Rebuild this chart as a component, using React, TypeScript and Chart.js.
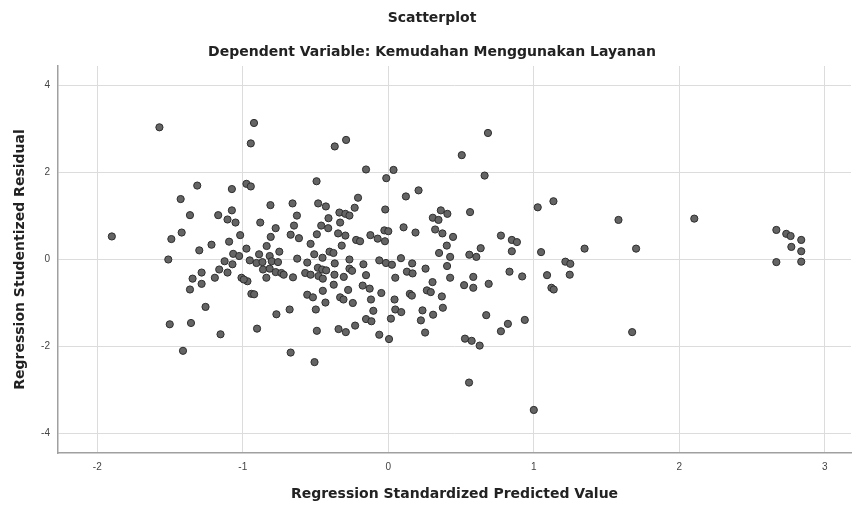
import React, { useEffect, useRef } from "react";
import Chart from "chart.js/auto";

const chartTitle = "Scatterplot";
const chartSubtitle = "Dependent Variable: Kemudahan Menggunakan Layanan";
const xAxisTitle = "Regression Standardized Predicted Value";
const yAxisTitle = "Regression Studentized Residual";

const xTickValues = [-2, -1, 0, 1, 2, 3];
const yTickValues = [-4, -2, 0, 2, 4];

const predictedValues = [
  -1.573, -0.923, -0.945, -1.313, -1.075, -0.975, -0.945, -1.427, -1.363, -1.169,
  -1.075, -1.105, -1.05, -0.88, -1.9, -1.42, -1.491, -1.018, -1.215, -1.094,
  -1.299, -0.975, -1.066, -1.025, -1.512, -1.125, -1.071, -0.952, -0.906, -0.888,
  -1.162, -1.105, -1.283, -1.345, -1.192, -1.009, -1.283, -1.363, -0.968, -0.941,
  -0.922, -1.256, -1.502, -1.356, -1.153, -0.902, -1.411, -0.368, -0.29, -0.153,
  0.036, -0.014, -0.493, -0.81, -0.658, -0.482, -0.429, -0.208, -0.231, -0.628,
  -0.336, -0.295, -0.267, -0.411, -0.021, -0.774, -0.648, -0.461, -0.413, -0.331,
  -0.808, -0.671, -0.614, -0.491, -0.345, -0.295, -0.534, -0.32, -0.221, -0.194,
  -0.123, -0.073, -0.023, -0.027, 0.0, -0.836, -0.749, -0.626, -0.509, -0.452,
  -0.404, -0.377, -0.267, -0.171, -0.062, -0.016, 0.025, -0.815, -0.865, -0.801,
  -0.758, -0.557, -0.368, -0.267, -0.861, -0.815, -0.774, -0.735, -0.571, -0.484,
  -0.454, -0.427, -0.153, -0.838, -0.655, -0.48, -0.45, -0.306, 0.048, -0.993,
  -0.719, -0.534, -0.37, -0.375, -0.45, -0.557, -0.518, -0.432, -0.498, -0.276,
  -0.331, -0.308, -0.244, -0.249, -0.176, -0.128, -0.119, -0.048, -0.103, -0.153,
  -0.116, 0.018, 0.043, 0.048, -0.062, 0.005, -0.491, -0.342, -0.292, -0.228,
  -0.671, -0.507, -0.769, -0.678, 0.685, 0.505, 0.662, 0.208, 0.121, 0.361,
  0.406, 0.306, 0.345, 0.562, 1.027, 1.135, 0.105, 0.187, 0.322, 0.372,
  0.445, 0.774, 0.849, 0.884, 0.402, 0.635, 0.349, 0.557, 0.605, 0.425,
  0.849, 1.05, 0.087, 0.164, 0.128, 0.167, 0.256, 0.404, 0.833, 0.92,
  1.091, 0.425, 0.584, 0.304, 0.521, 0.584, 0.69, 1.121, 1.137, 0.148,
  0.162, 0.265, 0.292, 0.368, 0.089, 0.235, 0.375, 0.308, 0.224, 0.253,
  0.673, 0.822, 0.774, 0.938, 0.527, 0.573, 0.628, 0.555, 1.0, 1.582,
  2.103, 1.349, 1.703, 1.217, 1.251, 1.247, 1.676, 2.667, 2.735, 2.765,
  2.838, 2.77, 2.838, 2.667, 2.838,
];

const studentizedResiduals = [
  3.04, 3.14, 2.67, 1.7, 1.62, 1.74, 1.68, 1.39, 1.02, 1.02,
  1.13, 0.92, 0.85, 0.85, 0.53, 0.62, 0.47, 0.56, 0.34, 0.41,
  0.21, 0.25, 0.13, 0.08, 0.0, -0.04, -0.11, -0.02, -0.08, 0.12,
  -0.23, -0.3, -0.3, -0.44, -0.42, -0.42, -0.56, -0.69, -0.5, -0.79,
  -0.8, -1.09, -1.49, -1.46, -1.72, -1.59, -2.1, 2.6, 2.75, 2.07,
  2.06, 1.87, 1.8, 1.25, 1.29, 1.29, 1.22, 1.42, 1.19, 1.01,
  1.08, 1.05, 1.01, 0.95, 1.15, 0.72, 0.78, 0.78, 0.72, 0.85,
  0.52, 0.57, 0.49, 0.58, 0.6, 0.55, 0.36, 0.32, 0.45, 0.42,
  0.56, 0.48, 0.42, 0.67, 0.65, 0.31, 0.18, 0.02, 0.12, 0.04,
  0.18, 0.15, 0.0, -0.11, -0.02, -0.08, -0.12, 0.08, -0.06, -0.04,
  -0.06, -0.07, -0.09, -0.21, -0.23, -0.21, -0.29, -0.31, -0.31, -0.19,
  -0.23, -0.25, -0.36, -0.42, -0.41, -0.38, -0.44, -0.4, -0.42, -0.46,
  -0.35, -0.35, -0.35, -0.58, -0.72, -0.81, -0.87, -0.99, -1.15, -0.7,
  -0.87, -0.92, -1.0, -0.26, -0.6, -0.67, -0.92, -0.77, -1.18, -1.37,
  -1.42, -1.36, -0.92, -1.15, -1.73, -1.83, -1.64, -1.6, -1.67, -1.52,
  -2.14, -2.36, -1.26, -1.15, 2.91, 2.4, 1.93, 1.59, 1.45, 1.13,
  1.05, 0.96, 0.91, 1.09, 1.2, 1.34, 0.74, 0.62, 0.69, 0.6,
  0.52, 0.55, 0.45, 0.4, 0.32, 0.26, 0.15, 0.11, 0.06, 0.06,
  0.19, 0.17, 0.03, -0.09, -0.28, -0.32, -0.21, -0.15, -0.28, -0.39,
  -0.36, -0.42, -0.4, -0.52, -0.59, -0.65, -0.56, -0.65, -0.69, -0.79,
  -0.83, -0.71, -0.75, -0.85, -1.21, -1.17, -1.11, -1.27, -1.4, -1.68,
  -1.28, -1.48, -1.65, -1.39, -1.82, -1.87, -1.98, -2.83, -3.46, 0.91,
  0.94, 0.25, 0.25, -0.05, -0.1, -0.35, -1.67, 0.68, 0.59, 0.54,
  0.45, 0.29, 0.19, -0.06, -0.05,
];

const titleFont = { family: "'DejaVu Sans', sans-serif", size: 14, weight: "bold" as const };
const tickFont = { family: "'Liberation Sans', Arial, sans-serif", size: 10 };

export default function App() {
  const canvasRef = useRef<HTMLCanvasElement | null>(null);

  useEffect(() => {
    if (!canvasRef.current) return;
    const points = predictedValues.map((x, i) => ({ x, y: studentizedResiduals[i] }));
    const chart = new Chart(canvasRef.current, {
      type: "scatter",
      data: {
        datasets: [
          {
            data: points,
            pointRadius: 3.6,
            pointBackgroundColor: "#646464",
            pointBorderColor: "#2e2e2e",
            pointBorderWidth: 1,
          },
        ],
      },
      options: {
        animation: false,
        responsive: false,
        devicePixelRatio: 1,
        layout: { padding: { left: 8, right: 0, top: 0, bottom: 0 } },
        plugins: {
          legend: { display: false },
          tooltip: { enabled: false },
          title: {
            display: true,
            text: chartTitle,
            color: "#222",
            font: titleFont,
            padding: { top: 9.6, bottom: 10 },
          },
          subtitle: {
            display: true,
            text: chartSubtitle,
            color: "#222",
            font: titleFont,
            padding: { top: 7.2, bottom: 5.6 },
          },
        },
        scales: {
          x: {
            type: "linear",
            min: -2.27,
            max: 3.18,
            afterBuildTicks: (scale: any) => {
              scale.ticks = xTickValues.map((v) => ({ value: v }));
            },
            afterFit: (scale: any) => {
              scale.height = 54;
            },
            grid: { color: "#dcdcdc", lineWidth: 1, drawTicks: false },
            border: { display: true, color: "#a0a0a0", width: 1.5 },
            ticks: { font: tickFont, color: "#444", padding: 8, maxRotation: 0 },
            title: {
              display: true,
              text: xAxisTitle,
              color: "#222",
              font: titleFont,
              padding: { top: 0, bottom: 4.6 },
            },
          },
          y: {
            type: "linear",
            min: -4.45,
            max: 4.45,
            afterBuildTicks: (scale: any) => {
              scale.ticks = yTickValues.map((v) => ({ value: v }));
            },
            afterFit: (scale: any) => {
              scale.width = 50;
            },
            grid: { color: "#dcdcdc", lineWidth: 1, drawTicks: false },
            border: { display: true, color: "#a0a0a0", width: 1.5 },
            ticks: { font: tickFont, color: "#444", padding: 8 },
            title: {
              display: true,
              text: yAxisTitle,
              color: "#222",
              font: titleFont,
              padding: { top: 3.5, bottom: 0 },
            },
          },
        },
      },
    });
    return () => chart.destroy();
  }, []);

  return (
    <div style={{ position: "absolute", left: 0, top: 0, width: 856, height: 507, background: "#fff" }}>
      <canvas ref={canvasRef} width={856} height={507} style={{ display: "block", width: 856, height: 507 }} />
    </div>
  );
}
